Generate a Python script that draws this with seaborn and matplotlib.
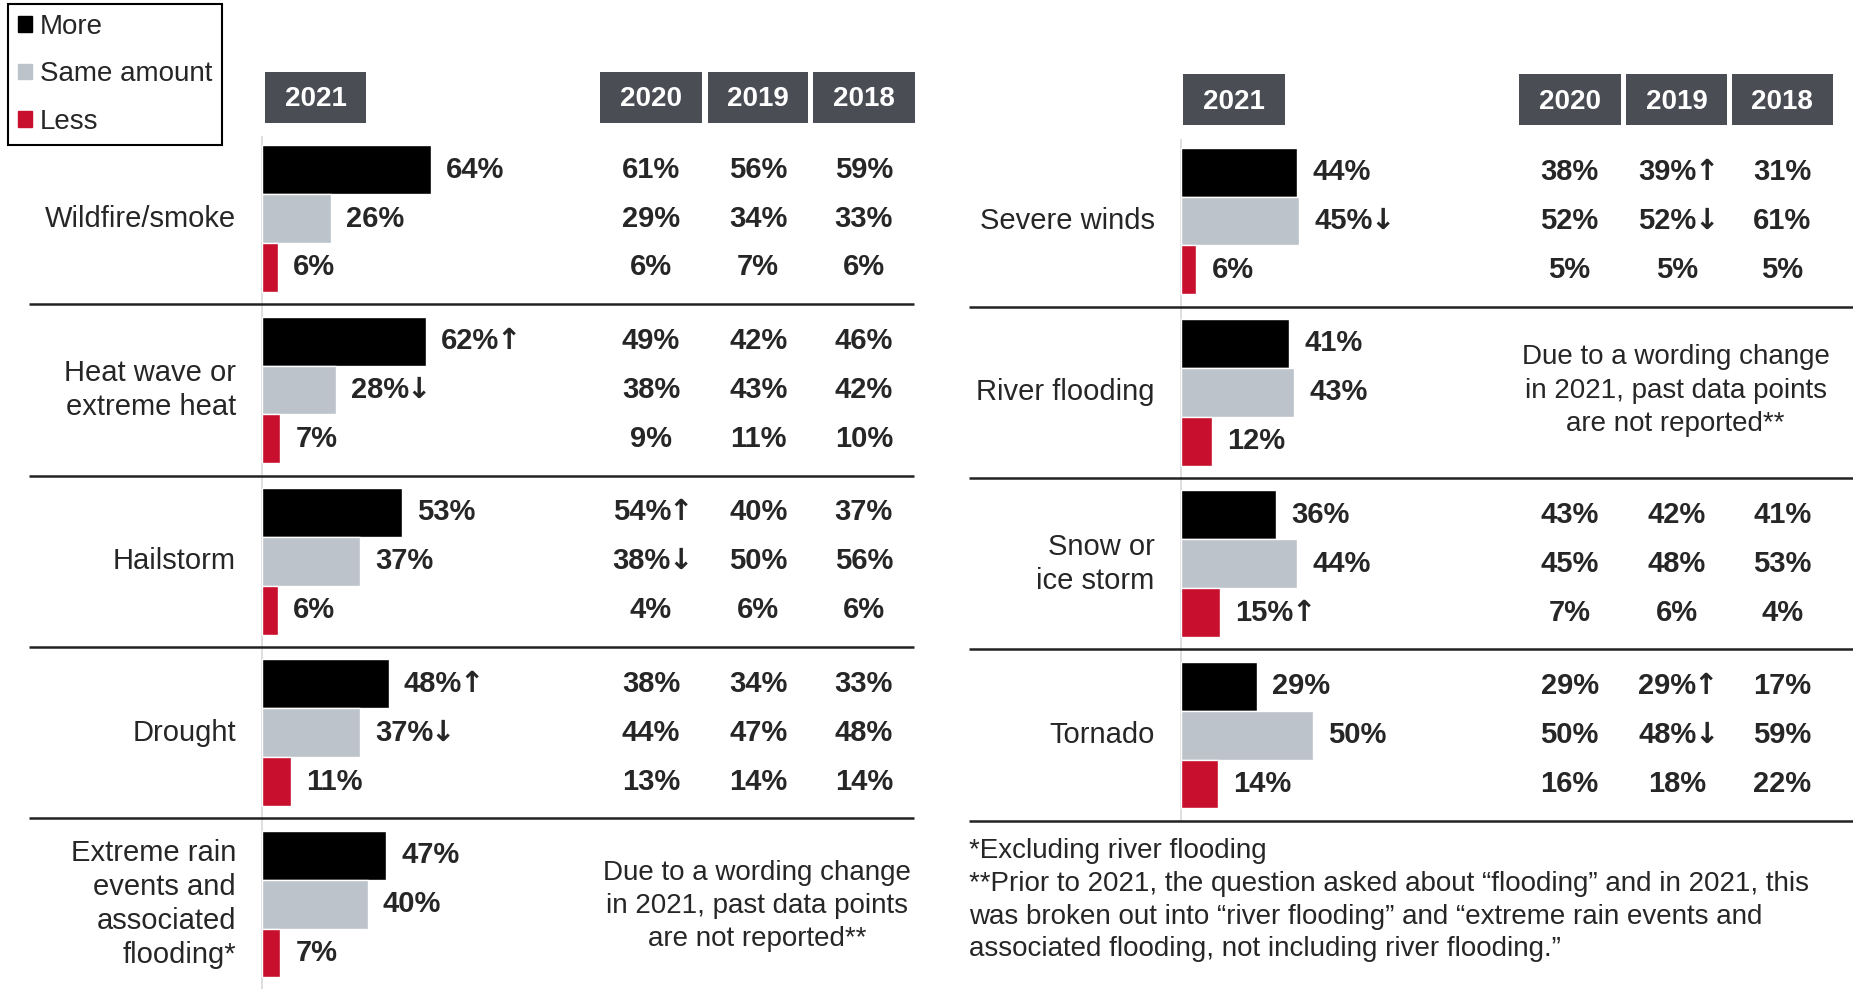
import pandas as pd
import matplotlib.pyplot as plt
from matplotlib.patches import Rectangle
import seaborn as sns

# --- dane ---
responses = ["More", "Same amount", "Less"]
colors = ["#000000", "#BCC3CA", "#C8102E"]
past_years = ["2020", "2019", "2018"]

left_categories = ["Wildfire/smoke", "Heat wave or\nextreme heat", "Hailstorm", "Drought",
                   "Extreme rain\nevents and\nassociated\nflooding*"]
left_more = [64, 62, 53, 48, 47]
left_same = [26, 28, 37, 37, 40]
left_less = [6, 7, 6, 11, 7]
left_more_change = ["", "↑", "", "↑", ""]
left_same_change = ["", "↓", "", "↓", ""]
left_less_change = ["", "", "", "", ""]
# (more, same, less) for each category, None = not reported
left_2020 = [(61, 29, 6), (49, 38, 9), (54, 38, 4), (38, 44, 13), None]
left_2019 = [(56, 34, 7), (42, 43, 11), (40, 50, 6), (34, 47, 14), None]
left_2018 = [(59, 33, 6), (46, 42, 10), (37, 56, 6), (33, 48, 14), None]
left_past_change = {("2020", 2, 0): "↑", ("2020", 2, 1): "↓"}

right_categories = ["Severe winds", "River flooding", "Snow or\nice storm", "Tornado"]
right_more = [44, 41, 36, 29]
right_same = [45, 43, 44, 50]
right_less = [6, 12, 15, 14]
right_more_change = ["", "", "", ""]
right_same_change = ["↓", "", "", ""]
right_less_change = ["", "", "↑", ""]
right_2020 = [(38, 52, 5), None, (43, 45, 7), (29, 50, 16)]
right_2019 = [(39, 52, 5), None, (42, 48, 6), (29, 48, 18)]
right_2018 = [(31, 61, 5), None, (41, 53, 4), (17, 59, 22)]
right_past_change = {("2019", 0, 0): "↑", ("2019", 0, 1): "↓",
                     ("2019", 3, 0): "↑", ("2019", 3, 1): "↓"}

wording_note = "Due to a wording change\nin 2021, past data points\nare not reported**"
footnote = ("*Excluding river flooding\n"
            "**Prior to 2021, the question asked about \u201cflooding\u201d and in 2021, this\n"
            "was broken out into \u201criver flooding\u201d and \u201cextreme rain events and\n"
            "associated flooding, not including river flooding.\u201d")

# uklad (jednostki: % na osi x, wiersze na osi y)
HEADER_2021 = (1.0, 39.5)
HEADER_PAST = [(128.0, 166.7), (168.9, 207.0), (208.7, 247.2)]
HEADER_Y = (-0.855, -0.558)
LABEL_X = -9.85
FS = 21


def add_arrow(ax, txt_artist, arrow):
    # strzalka doklejona za liczba (DejaVu ma wieksza strzalke)
    ax.annotate(arrow, xy=(1, 0.5), xycoords=txt_artist, xytext=(-2, 0),
                textcoords="offset points", ha="left", va="center",
                fontsize=FS, fontweight="bold", family="DejaVu Sans")


def draw_panel(ax, cats, more, same, less, changes, past, past_change, xlim, ylim,
               sep_x, vline_end):
    df = pd.DataFrame({
        "category": cats * 3,
        "response": [r for r in responses for _ in cats],
        "value": more + same + less,
    })
    sns.barplot(data=df, x="value", y="category", hue="response", hue_order=responses,
                palette=colors, orient="h", width=0.855, errorbar=None, ax=ax,
                saturation=1, legend=False)
    ax.set_xlim(*xlim)
    ax.set_ylim(*ylim)
    ax.axis("off")

    # etykiety 2021
    for cont, vals, ch in zip(ax.containers, [more, same, less], changes):
        texts = ax.bar_label(cont, labels=[f"{v}%" for v in vals], padding=11,
                             fontsize=FS, fontweight="bold")
        for t, c in zip(texts, ch):
            if c:
                add_arrow(ax, t, c)

    # kolumny z poprzednich lat
    for j, cont in enumerate(ax.containers):
        for i, bar in enumerate(cont):
            yc = bar.get_y() + bar.get_height() / 2
            for k, (year, data) in enumerate(zip(past_years, past)):
                if data[i] is None:
                    continue
                arrow = past_change.get((year, i, j), "")
                xc = sum(HEADER_PAST[k]) / 2 - (3.5 if arrow else 0)
                t = ax.text(xc, yc, f"{data[i][j]}%", ha="center", va="center",
                            fontsize=FS, fontweight="bold")
                if arrow:
                    add_arrow(ax, t, arrow)

    # nazwy kategorii
    for i, c in enumerate(cats):
        ax.text(LABEL_X, i, c, ha="right", va="center", fontsize=FS, linespacing=1.27)

    # naglowki
    for (x0, x1), year in zip([HEADER_2021] + HEADER_PAST, ["2021"] + past_years):
        ax.add_patch(Rectangle((x0, HEADER_Y[0]), x1 - x0, HEADER_Y[1] - HEADER_Y[0],
                               facecolor="#4B4D55", edgecolor="none", clip_on=False))
        ax.text((x0 + x1) / 2, sum(HEADER_Y) / 2 + 0.01, year, ha="center", va="center",
                fontsize=FS - 1, fontweight="bold", color="white")

    # linie
    ax.vlines(0, -0.48, vline_end, color="#D9D9D9", lw=1.2, zorder=0)
    ax.hlines([i + 0.5 for i in range(4)], sep_x[0], sep_x[1], color="#222222", lw=1.8)


def main():
    sns.set_theme(style="white")
    plt.rcParams["font.family"] = ["Liberation Sans", "DejaVu Sans"]

    fig = plt.figure(figsize=(18.53, 9.89), dpi=100)
    ax_l = fig.add_axes([0, 0, 0.5, 1])
    ax_r = fig.add_axes([0.5, 0, 0.5, 1])
    ylim = (4.495, -1.275)

    draw_panel(ax_l, left_categories, left_more, left_same, left_less,
               [left_more_change, left_same_change, left_less_change],
               [left_2020, left_2019, left_2018], left_past_change,
               (-99.24, 251.7), ylim, (-88.1, 246.8), 4.6)
    draw_panel(ax_r, right_categories, right_more, right_same, right_less,
               [right_more_change, right_same_change, right_less_change],
               [right_2020, right_2019, right_2018], right_past_change,
               (-96.25, 254.7), (ylim[0] - 0.014, ylim[1] - 0.014), (-80.2, 260), 3.5)

    ax_l.text(187.5, 4.01, wording_note, ha="center", va="center", fontsize=FS - 1,
              linespacing=1.36)
    ax_r.text(187.5, 0.99, wording_note, ha="center", va="center", fontsize=FS - 1,
              linespacing=1.36)
    ax_r.text(-80.2, 3.6, footnote, ha="left", va="top", fontsize=FS - 1, linespacing=1.34)

    handles = [Rectangle((0, 0), 1, 1, color=c) for c in colors]
    leg = fig.legend(handles, responses, loc="upper left", bbox_to_anchor=(0.0043, 0.996),
                     borderaxespad=0, frameon=True, fancybox=False, framealpha=1,
                     edgecolor="black", fontsize=FS - 1, handlelength=0.5,
                     handleheight=0.5, handletextpad=0.3, labelspacing=0.78,
                     borderpad=0.35)
    leg.get_frame().set_linewidth(1.5)

    fig.savefig("out.png", dpi=100)
    plt.close(fig)


if __name__ == "__main__":
    main()
